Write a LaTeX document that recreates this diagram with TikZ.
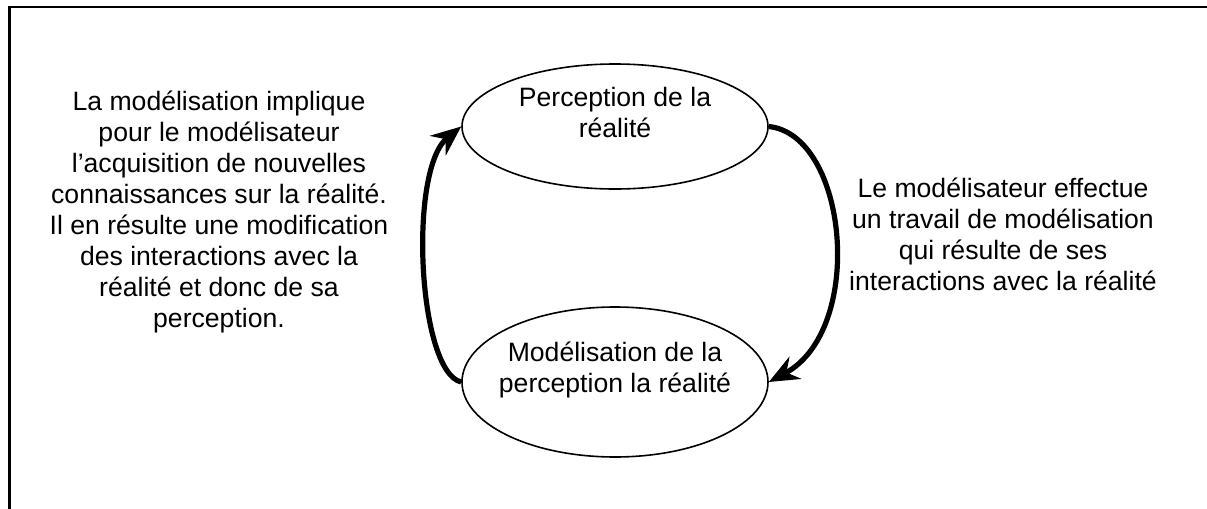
\documentclass[tikz,border=0pt]{standalone}
\usepackage{fontspec}
\setmainfont{Liberation Sans}
\usetikzlibrary{arrows.meta}
\usetikzlibrary{shapes.geometric}

\tikzset{
	etat/.style={ellipse, draw, line width=0.8pt, inner sep=0pt, minimum width=153pt},
	texte/.style={align=center, inner sep=0pt, font=\fontsize{13.3}{15.5}\selectfont},
	fleche/.style={-{Stealth[length=15pt, width=12.5pt, inset=5pt]}, line width=2.6pt}
}

\begin{document}
\begin{tikzpicture}[x=0.5pt, y=-0.5pt, >=Stealth]
		
		\useasboundingbox (0,0) rectangle (1207,509);
		
		% Frame
		\draw[line width=1.1pt] (9.5,509) -- (9.5,6.7) -- (1207,6.7);
		
		% States
		\node[etat, minimum height=62.5pt] (perc) at (615,126.5) {};
		\node[etat, minimum height=75pt] (mod) at (615,382) {};
		\node[texte] (tperc) at (615,112.5) {Perception de la\\réalité};
		\node[texte] (tmod) at (615,370) {Modélisation de la\\perception la réalité};
		
		% Loop
		\draw[fleche] (perc.east) .. controls (848,135) and (866,330) .. (mod.east);
		\draw[fleche] (mod.west) .. controls (418,372) and (408,170) .. (perc.west);
		
		% Comments
		\node[texte] (gauche) at (219,212) {La modélisation implique\\pour le modélisateur\\l’acquisition de nouvelles\\connaissances sur la réalité.\\Il en résulte une modification\\des interactions avec la\\réalité et donc de sa\\perception.};
		\node[texte] (droite) at (1003,234.5) {Le modélisateur effectue\\un travail de modélisation\\qui résulte de ses\\interactions avec la réalité};
		
	\end{tikzpicture}
\end{document}
